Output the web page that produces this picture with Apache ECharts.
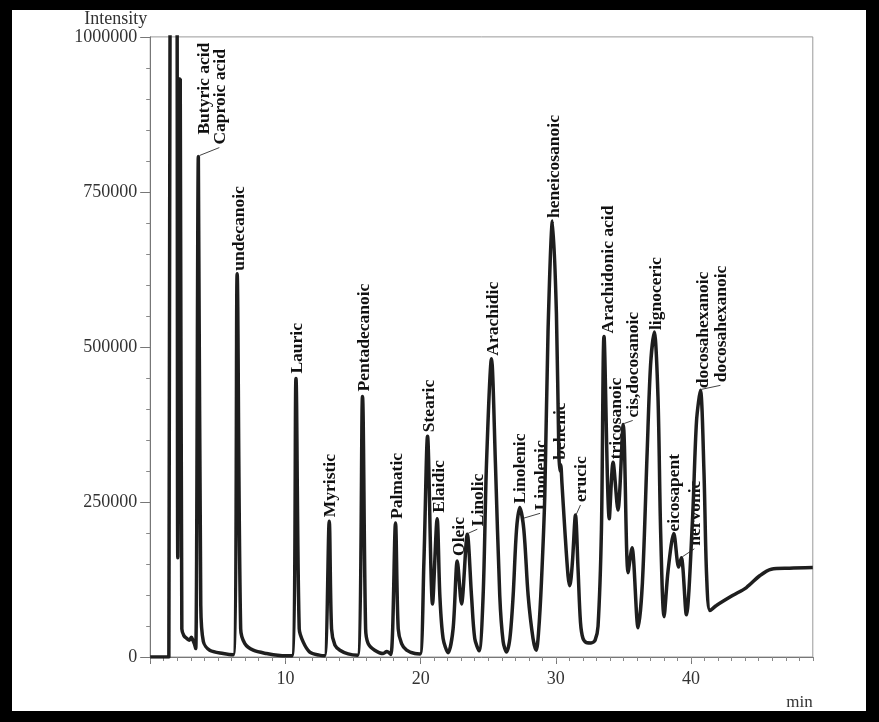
<!DOCTYPE html>
<html>
<head>
<meta charset="utf-8">
<script src="https://cdn.jsdelivr.net/npm/echarts/dist/echarts.min.js"></script>
<style>
  html, body { margin: 0; padding: 0; width: 879px; height: 722px; background: #000; overflow: hidden; }
  #chart { position: absolute; left: 12px; top: 10px; width: 854px; height: 701px; background: #fff; }
</style>
</head>
<body>
<div id="chart"></div>
<script>
// GC trace of fatty-acid methyl esters: retention time (min) and detector intensity
const traceTime = [
  0, 0.6, 1.38, 1.50, 1.90, 2.04, 2.15, 2.22, 2.34, 2.50, 2.70, 2.90, 3.05, 3.16, 3.27, 3.37,
  3.56, 3.74, 3.93, 4.40, 5.40, 6.15, 6.43, 6.69, 7.00, 7.62, 8.60, 9.60, 10.48, 10.78,
  11.02, 11.32, 11.80, 12.50, 12.90, 13.24, 13.41, 13.66, 14.03, 14.64, 15.34, 15.70, 15.93,
  16.12, 16.60, 17.23, 17.50, 17.80, 18.14, 18.34, 18.59, 18.96, 19.57, 19.96, 20.24, 20.51,
  20.88, 21.22, 21.42, 21.66, 22.03, 22.40, 22.71, 23.02, 23.45, 23.76, 24.00, 24.32, 24.62,
  24.87, 25.24, 25.53, 25.85, 26.10, 26.35, 26.60, 26.84, 27.09, 27.33, 27.63, 27.95, 28.31,
  28.55, 28.72, 28.93, 29.18, 29.42, 29.75, 30.04, 30.22, 30.30, 30.36, 30.45, 30.66, 30.90,
  31.03, 31.22, 31.45, 31.64, 31.82, 32.01, 32.30, 32.60, 32.90, 33.12, 33.37, 33.56, 33.95,
  34.23, 34.59, 34.98, 35.34, 35.63, 36.08, 36.40, 36.75, 37.00, 37.28, 37.55, 37.75, 38.00,
  38.30, 38.72, 39.08, 39.28, 39.65, 40.10, 40.40, 40.69, 40.95, 41.15, 41.40, 41.87, 43.06,
  44.09, 45.07, 45.93, 47.28, 49.00
];
const traceIntensity = [
  0, 0, 0, 1400000, 1400000, 160000, 932000, 932000, 45000, 34000, 30000, 27000, 32000, 27000, 21000, 13600,
  807000, 83000, 25000, 11000, 5600, 3500, 618000, 45600, 21600, 11000, 5600, 2500, 2000, 449000,
  45600, 24000, 8000, 3000, 2000, 219000, 45600, 19000, 11000, 5000, 3000, 420000, 45600,
  21600, 11000, 5600, 9000, 4000, 216000, 45600, 21600, 11000, 5600, 5000, 153000, 356000,
  85600, 223000, 99000, 30000, 7000, 45600, 155000, 85600, 198000, 99000, 30000, 10000, 99000,
  312000, 481000, 312000, 99000, 25000, 8000, 30000, 99000, 205600, 241000, 205600, 99000, 30000,
  11000, 40000, 120000, 260000, 525000, 703000, 554000, 330000, 300000, 310000, 280000, 205600, 131000,
  115000, 152000, 229000, 141600, 56000, 29600, 23000, 22700, 27000, 50000, 205600, 517000, 223000,
  314000, 237000, 375000, 136000, 176000, 47000, 120000, 330000, 470000, 524000, 420000, 200000, 65000,
  140000, 199000, 145000, 160000, 68000, 220000, 380000, 430000, 300000, 130000, 75000, 83000, 99000,
  112000, 131000, 141600, 143200, 144300
];

// Peak names and the point of the trace each name points at
const peakNames = [
  'Butyric acid', 'Caproic acid', 'undecanoic', 'Lauric', 'Myristic', 'Pentadecanoic', 'Palmatic',
  'Stearic', 'Elaidic', 'Oleic', 'Linolic', 'Arachidic', 'Linolenic', 'Linolenic', 'heneicosanoic',
  'behenic', 'erucic', 'Arachidonic acid', 'tricosanoic', 'cis,docosanoic', 'lignoceric',
  'eicosapent', 'nervonic', 'docosahexanoic', 'docosahexanoic'
];
const peakTime = [
  3.56, 3.56, 6.43, 10.78, 13.24, 15.70, 18.14, 20.51, 21.22, 22.71, 23.45, 25.24, 27.33, 27.50, 29.75,
  30.36, 31.45, 33.56, 34.23, 34.98, 37.28, 38.72, 39.28, 40.69, 40.69
];
const peakIntensity = [
  807000, 807000, 618000, 449000, 219000, 420000, 216000, 356000, 223000, 155000, 198000, 481000,
  241000, 222000, 703000, 310000, 229000, 517000, 314000, 375000, 524000, 199000, 160000, 430000, 430000
];

// Y axis tick values
const intensityTicks = [0, 250000, 500000, 750000, 1000000];
// X axis labelled times
const timeTicks = [10, 20, 30, 40];

// Label placement: pixel shift of the text start from its peak, and whether a leader line is drawn
const labelShift = [
  [6, -22], [22, -12], [2, -3], [1.5, -5], [1, -4], [2, -5], [2, -4],
  [2, -4], [2, -6], [2, -5], [11, -8], [2, -3], [1, -4], [19, -9], [2, -3],
  [0, -5], [6, -13], [4, -3], [3, -3], [10.5, -7], [2, -2],
  [1, -2], [14, -12], [3, -2], [21, -8]
];
const hasLeader = [
  false, true, false, false, false, false, false,
  false, false, false, true, false, false, true, false,
  false, true, false, false, true, false,
  false, true, false, true
];

const serif = '"Liberation Serif", "Times New Roman", serif';
const chart = echarts.init(document.getElementById('chart'), null, { renderer: 'canvas' });

const option = {
  animation: false,
  backgroundColor: '#fff',
  grid: {
    left: 138.2, top: 23.6, right: 53.2, bottom: 52.5,
    show: true, borderColor: '#9a9a9a', borderWidth: 1, backgroundColor: 'transparent'
  },
  xAxis: [
    {
      type: 'value', min: 0, max: 49, interval: 10,
      axisLine: { show: true, lineStyle: { color: '#777', width: 1 } },
      axisTick: { show: true, length: 7, customValues: [0].concat(timeTicks), lineStyle: { color: '#777' } },
      axisLabel: { customValues: timeTicks, fontFamily: serif, fontSize: 18, color: '#333', margin: 13 },
      splitLine: { show: false },
      name: 'min', nameLocation: 'end', nameGap: 0,
      nameTextStyle: { fontFamily: serif, fontSize: 17, color: '#333', align: 'right', verticalAlign: 'top', padding: [37, 0, 0, 0] }
    },
    {
      type: 'value', min: 0, max: 49, interval: 1, position: 'bottom',
      axisLine: { show: false },
      axisTick: { show: true, length: 4, lineStyle: { color: '#888' } },
      axisLabel: { show: false },
      splitLine: { show: false }
    }
  ],
  yAxis: {
    type: 'value', min: 0, max: 1000000, interval: 250000,
    axisLine: { show: true, lineStyle: { color: '#777', width: 1 } },
    axisTick: { show: true, length: 10, lineStyle: { color: '#777' } },
    minorTick: { show: true, splitNumber: 5, length: 4, lineStyle: { color: '#888' } },
    axisLabel: {
      customValues: intensityTicks,
      formatter: function (v) { return String(v); },
      fontFamily: serif, fontSize: 18, color: '#333', margin: 13
    },
    splitLine: { show: false },
    minorSplitLine: { show: false },
    name: 'Intensity', nameLocation: 'end', nameGap: 6,
    nameTextStyle: { fontFamily: serif, fontSize: 18, color: '#333', align: 'right', verticalAlign: 'bottom', padding: [0, 3, 0, 0] }
  },
  series: [
    {
      type: 'custom',
      xAxisIndex: 0, yAxisIndex: 0,
      clip: false, silent: true, z: 2,
      data: peakTime.map((t, i) => [t, peakIntensity[i]]),
      renderItem: function (params, api) {
        const i = params.dataIndex;
        const p = api.coord([api.value(0), api.value(1)]);
        const s = labelShift[i];
        const children = [{
          type: 'text',
          x: p[0] + s[0], y: p[1] + s[1],
          rotation: Math.PI / 2,
          style: {
            text: peakNames[i],
            font: 'bold 17.5px ' + serif,
            fill: '#111',
            align: 'left',
            verticalAlign: 'middle'
          }
        }];
        if (hasLeader[i]) {
          children.push({
            type: 'line',
            shape: { x1: p[0] + 1, y1: p[1] - 1, x2: p[0] + s[0] - 1, y2: p[1] + s[1] + 3 },
            style: { stroke: '#444', lineWidth: 1 }
          });
        }
        return { type: 'group', children: children };
      }
    },
    {
      type: 'line',
      xAxisIndex: 0, yAxisIndex: 0,
      data: traceTime.map((t, i) => [t, traceIntensity[i]]),
      symbol: 'none', showSymbol: false,
      smooth: 0.3,
      clip: true, z: 3,
      lineStyle: { color: '#1e1e1e', width: 3.5 }
    }
  ]
};
chart.setOption(option);
</script>
</body>
</html>
